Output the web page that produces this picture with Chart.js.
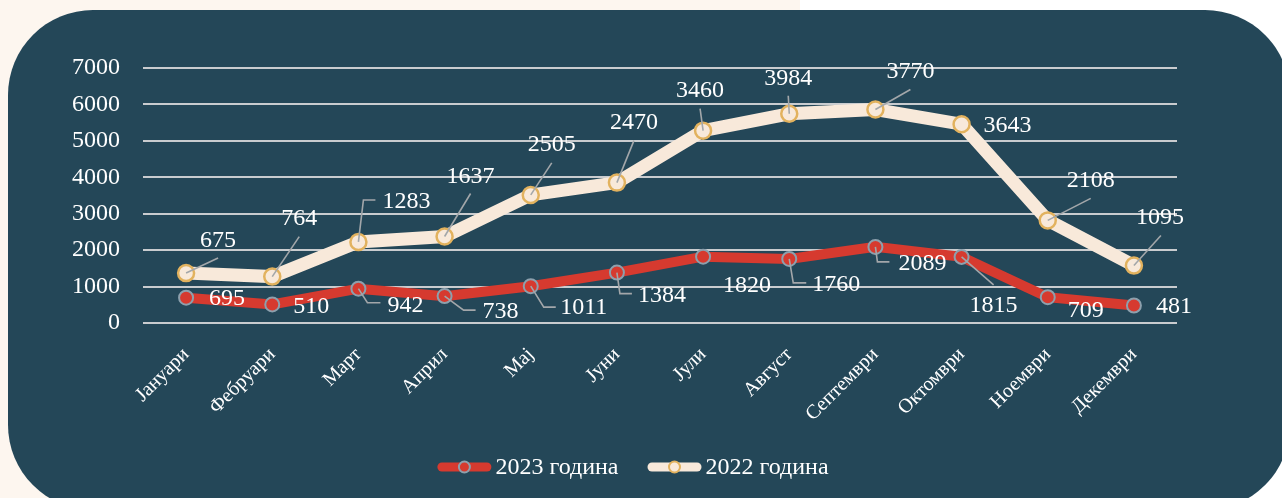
<!DOCTYPE html>
<html>
<head>
<meta charset="utf-8">
<script src="https://cdn.jsdelivr.net/npm/chart.js@4.4.1/dist/chart.umd.min.js"></script>
<style>
  html, body { margin: 0; padding: 0; background: #ffffff; overflow: hidden; }
  #cream { position: absolute; left: 0; top: 0; width: 800px; height: 498px; background: #fdf6ef; }
  #panel { position: absolute; left: 8px; top: 10px; width: 1282px; height: 500px; background: #244758; border-radius: 85px; }
  #wrap { position: absolute; left: 0; top: 0; width: 1282px; height: 498px; }
</style>
</head>
<body>
<div id="cream"></div>
<div id="panel"></div>
<div id="wrap"><canvas id="myChart"></canvas></div>
<script>
const months = ['Јануари', 'Фебруари', 'Март', 'Април', 'Мај', 'Јуни', 'Јули', 'Август', 'Септември', 'Октомври', 'Ноември', 'Декември'];
const values2023 = [695, 510, 942, 738, 1011, 1384, 1820, 1760, 2089, 1815, 709, 481];
const values2022 = [675, 764, 1283, 1637, 2505, 2470, 3460, 3984, 3770, 3643, 2108, 1095];
const yTicks = [0, 1000, 2000, 3000, 4000, 5000, 6000, 7000];

// where each value label sits relative to its point, and its leader line
const labelPos2023 = [[41, 1], [39, 2], [47, 17], [56, 16], [53, 22], [45, 23], [44, 29], [47, 26], [47, 17], [32, 49], [38, 14], [40, 1]];
const leaders2023 = [null, null, [[0, 0], [9, 14], [22, 14]], [[0, 0], [19, 14], [31, 14]], [[0, 0], [13, 21], [25, 21]], [[0, 0], [3, 21], [15, 21]], null, [[0, 0], [4, 24], [17, 24]], [[0, 0], [2, 15], [14, 15]], [[0, 0], [32, 28]], null, null];
const labelPos2022 = [[32, -32], [27, -58], [48, -40], [26, -60], [21, -50], [17, -60], [-3, -40], [-1, -35], [35, -38], [46, 2], [43, -40], [26, -48]];
const leaders2022 = [[[0, 0], [32, -15]], [[0, 0], [27, -40]], [[0, 0], [5, -42], [17, -42]], [[0, 0], [26, -43]], [[0, 0], [21, -32]], [[0, 0], [17, -42]], [[0, 0], [-3, -22]], [[0, 0], [-1, -18]], [[0, 0], [35, -20]], null, [[0, 0], [43, -22]], [[0, 0], [27, -30]]];

const FONT = "'Liberation Serif', 'DejaVu Serif', serif";

const valueLabels = {
  id: 'valueLabels',
  afterDatasetsDraw(chart) {
    const ctx = chart.ctx;
    const sets = [[values2023, labelPos2023, leaders2023], [values2022, labelPos2022, leaders2022]];
    ctx.save();
    sets.forEach((s, di) => {
      const meta = chart.getDatasetMeta(di);
      meta.data.forEach((pt, j) => {
        const lead = s[2][j];
        if (lead) {
          ctx.strokeStyle = '#a3a7aa';
          ctx.lineWidth = 1.6;
          ctx.beginPath();
          lead.forEach((p, k) => {
            if (k === 0) ctx.moveTo(pt.x + p[0], pt.y + p[1]);
            else ctx.lineTo(pt.x + p[0], pt.y + p[1]);
          });
          ctx.stroke();
        }
        ctx.fillStyle = '#ffffff';
        ctx.font = '24px ' + FONT;
        ctx.textAlign = 'center';
        ctx.textBaseline = 'middle';
        ctx.fillText(String(s[0][j]), pt.x + s[1][j][0], pt.y + s[1][j][1]);
      });
    });
    ctx.restore();
  }
};

// legend drawn by hand: long line with the point marker in the middle
const lineLegend = {
  id: 'lineLegend',
  afterDraw(chart) {
    const ctx = chart.ctx;
    const y = 467, centre = 633, iconW = 54, gapText = 4, gapItem = 29;
    ctx.save();
    ctx.font = '24px ' + FONT;
    const items = chart.data.datasets.map(ds => ({ ds, w: ctx.measureText(ds.label).width }));
    let total = items.reduce((a, it) => a + iconW + gapText + it.w, 0) + gapItem * (items.length - 1);
    let x = centre - total / 2;
    items.forEach(it => {
      const ds = it.ds;
      ctx.strokeStyle = ds.borderColor;
      ctx.lineWidth = 9;
      ctx.lineCap = 'round';
      ctx.beginPath(); ctx.moveTo(x + 4.5, y); ctx.lineTo(x + iconW - 4.5, y); ctx.stroke();
      ctx.fillStyle = ds.pointBackgroundColor;
      ctx.strokeStyle = ds.pointBorderColor;
      ctx.lineWidth = 2;
      ctx.beginPath(); ctx.arc(x + iconW / 2, y, 5.5, 0, Math.PI * 2); ctx.fill(); ctx.stroke();
      ctx.fillStyle = '#ffffff';
      ctx.textAlign = 'left';
      ctx.textBaseline = 'middle';
      ctx.fillText(ds.label, x + iconW + gapText, y + 1);
      x += iconW + gapText + it.w + gapItem;
    });
    ctx.restore();
  }
};

new Chart(document.getElementById('myChart'), {
  type: 'line',
  data: {
    labels: months,
    datasets: [
      {
        label: '2023 година',
        data: values2023,
        borderColor: '#d63a2f',
        backgroundColor: '#d63a2f',
        borderWidth: 10,
        pointRadius: 7,
        pointBackgroundColor: '#d63a2f',
        pointBorderColor: '#8da0ad',
        pointBorderWidth: 2,
        tension: 0
      },
      {
        label: '2022 година',
        data: values2022,
        borderColor: '#f8e9da',
        backgroundColor: '#f8e9da',
        borderWidth: 13,
        pointRadius: 8,
        pointBackgroundColor: '#f8e9da',
        pointBorderColor: '#e2b25e',
        pointBorderWidth: 2.5,
        tension: 0
      }
    ]
  },
  options: {
    responsive: true,
    maintainAspectRatio: false,
    animation: false,
    layout: {
      padding: { left: 0, right: 105, top: 68, bottom: 0 }
    },
    plugins: {
      tooltip: { enabled: false },
      legend: { display: false }
    },
    scales: {
      x: {
        offset: true,
        grid: { display: false },
        border: { display: false },
        afterFit(scale) { scale.height = 175; },
        ticks: {
          color: '#ffffff',
          font: { family: FONT, size: 20 },
          minRotation: 45,
          maxRotation: 45,
          padding: 12
        }
      },
      y: {
        stacked: true,
        min: 0,
        max: 7000,
        afterFit(scale) { scale.width = 143; },
        afterBuildTicks(scale) { scale.ticks = yTicks.map(v => ({ value: v })); },
        grid: { color: '#c9cccf', lineWidth: 2, drawTicks: false },
        border: { display: false },
        ticks: {
          color: '#ffffff',
          font: { family: FONT, size: 24 },
          padding: 23,
          callback: v => String(v)
        }
      }
    }
  },
  plugins: [valueLabels, lineLegend]
});
</script>
</body>
</html>
